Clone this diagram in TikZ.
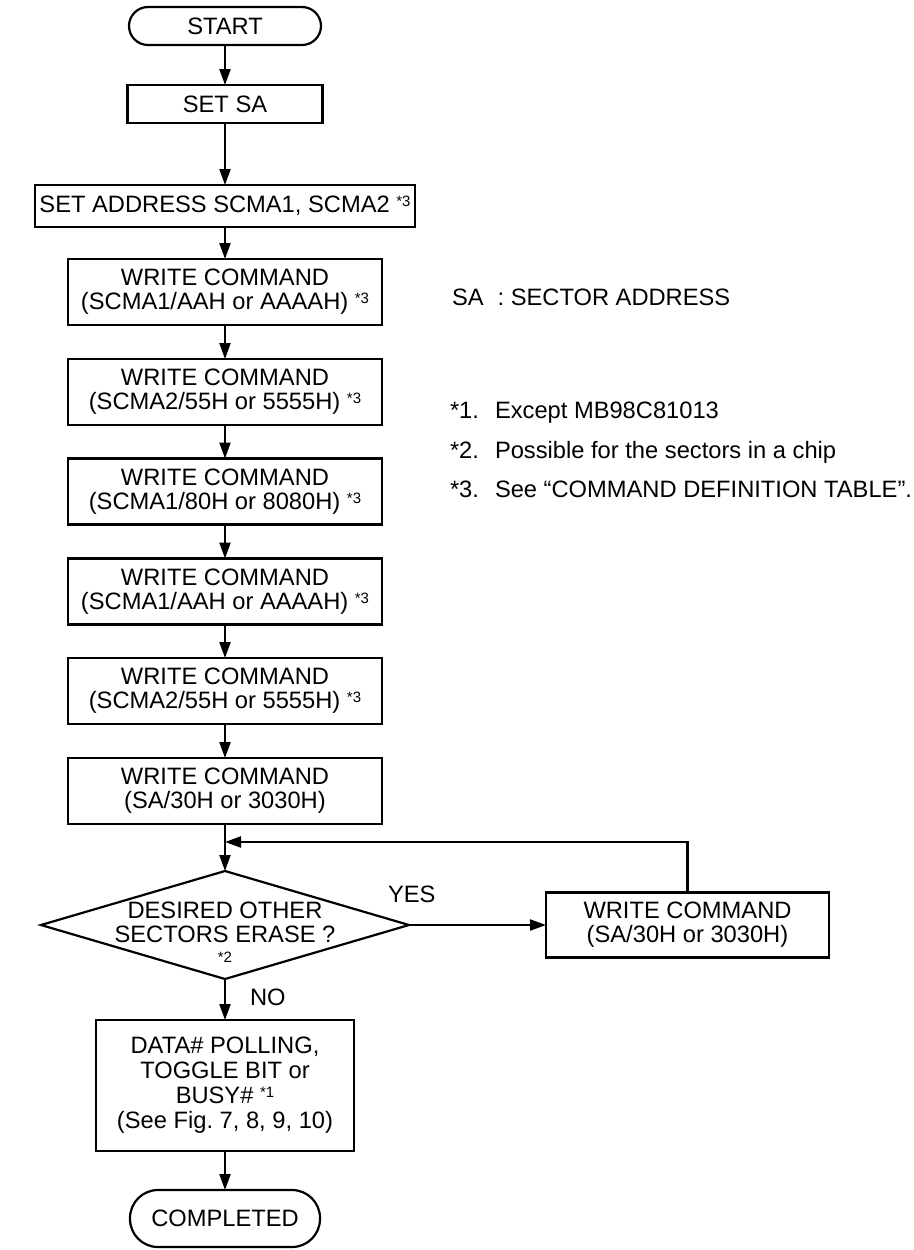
\documentclass[tikz,border=0pt]{standalone}
\usepackage{fontspec}
\setmainfont{Liberation Sans}
\usetikzlibrary{arrows.meta,shapes.geometric}
\newcommand\mynote[1]{\raisebox{6pt}{\fontsize{15}{15}\selectfont *#1}}
\begin{document}
\begin{tikzpicture}[x=1pt,y=-1pt,
  every node/.style={font=\fontsize{23.7}{24}\selectfont, inner sep=0pt, outer sep=0pt},
  box/.style={draw, line width=2.2pt, align=center, minimum width=314pt, minimum height=66pt},
  term/.style={draw, line width=2.2pt, align=center},
  arr/.style={line width=2.2pt, -{Triangle[length=16pt,width=11pt]}},
  lbl/.style={anchor=base west}]
\useasboundingbox (0,0) rectangle (913,1250);
\node[term, rounded corners=19pt, minimum width=192pt, minimum height=38pt] (start) at (225,26) {START};
\node[term, minimum width=195pt, minimum height=38pt] (setsa) at (225,104) {SET SA};
\node[term, minimum width=380pt, minimum height=42pt] (setaddr) at (225,206) {SET ADDRESS SCMA1, SCMA2 \mynote{3}};
\node[box] (w1) at (225,292) {WRITE COMMAND\\(SCMA1/AAH or AAAAH) \mynote{3}};
\node[box] (w2) at (225,392) {WRITE COMMAND\\(SCMA2/55H or 5555H) \mynote{3}};
\node[box] (w3) at (225,491.5) {WRITE COMMAND\\(SCMA1/80H or 8080H) \mynote{3}};
\node[box] (w4) at (225,591.5) {WRITE COMMAND\\(SCMA1/AAH or AAAAH) \mynote{3}};
\node[box] (w5) at (225,691) {WRITE COMMAND\\(SCMA2/55H or 5555H) \mynote{3}};
\node[box] (w6) at (225,791) {WRITE COMMAND\\(SA/30H or 3030H)};
\node[diamond, draw, line width=2.2pt, minimum width=368pt, minimum height=108pt] (dec) at (225,925) {};
\node[align=center] (dectext) at (225,922) {DESIRED OTHER\\SECTORS ERASE ?};
\node[anchor=base, font=\fontsize{15}{15}\selectfont] (decnote) at (225,962) {*2};
\node[term, minimum width=283pt, minimum height=65pt] (wr) at (687.5,925) {WRITE COMMAND\\(SA/30H or 3030H)};
\node[term, minimum width=258pt, minimum height=131pt, font=\fontsize{23.7}{25}\selectfont] (data) at (225,1085.5) {DATA\# POLLING,\\TOGGLE BIT or\\BUSY\# \mynote{1}\\(See Fig.\ 7, 8, 9, 10)};
\node[term, rounded corners=28pt, minimum width=190pt, minimum height=57pt] (comp) at (225,1218.5) {COMPLETED};
\coordinate (merge) at (225,842);
\draw[arr] (start) -- (setsa);
\draw[arr] (setsa) -- (setaddr);
\draw[arr] (setaddr) -- (w1);
\draw[arr] (w1) -- (w2);
\draw[arr] (w2) -- (w3);
\draw[arr] (w3) -- (w4);
\draw[arr] (w4) -- (w5);
\draw[arr] (w5) -- (w6);
\draw[arr] (w6) -- (dec.north);
\draw[arr] (dec.east) -- (wr.west);
\draw[arr] (wr.north) |- (merge);
\draw[arr] (dec.south) -- (data);
\draw[arr] (data) -- (comp);
\node[lbl] (yes) at (388,902) {YES};
\node[lbl] (no) at (250,1005) {NO};
\node[lbl] (sa) at (452,305) {SA\hspace{14pt}: SECTOR ADDRESS};
\node[lbl] (n1) at (450,418) {*1.};
\node[lbl] (t1) at (495,418) {Except MB98C81013};
\node[lbl] (n2) at (450,458) {*2.};
\node[lbl] (t2) at (495,458) {Possible for the sectors in a chip};
\node[lbl] (n3) at (450,497) {*3.};
\node[lbl] (t3) at (495,497) {See “COMMAND DEFINITION TABLE”.};
\end{tikzpicture}
\end{document}
